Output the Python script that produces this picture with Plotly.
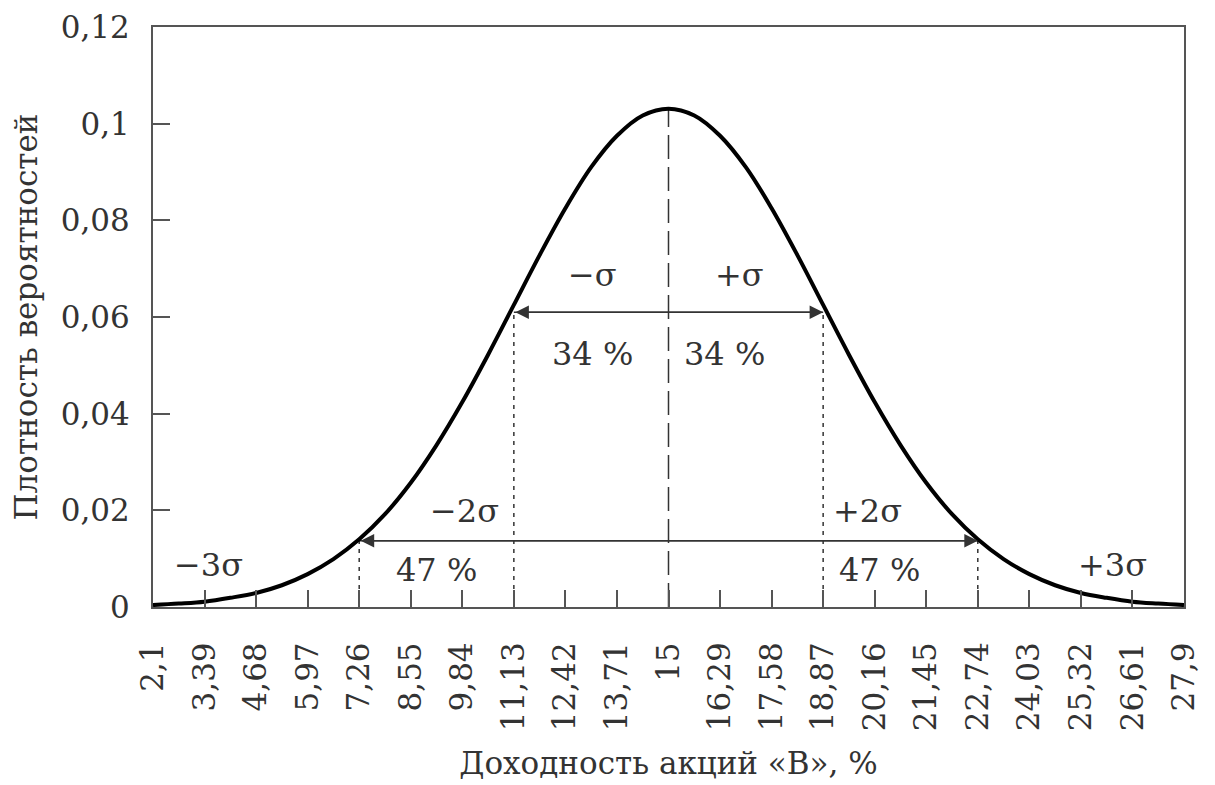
import plotly.graph_objects as go

# Tick positions / labels (x axis)
x_ticks = [2.1, 3.39, 4.68, 5.97, 7.26, 8.55, 9.84, 11.13, 12.42, 13.71, 15,
           16.29, 17.58, 18.87, 20.16, 21.45, 22.74, 24.03, 25.32, 26.61, 27.9]
x_tick_labels = ["2,1", "3,39", "4,68", "5,97", "7,26", "8,55", "9,84", "11,13", "12,42", "13,71", "15",
                 "16,29", "17,58", "18,87", "20,16", "21,45", "22,74", "24,03", "25,32", "26,61", "27,9"]
y_ticks = [0, 0.02, 0.04, 0.06, 0.08, 0.1, 0.12]
y_tick_labels = ["0", "0,02", "0,04", "0,06", "0,08", "0,1", "0,12"]

# Density curve
curve_x = [2.1, 2.745, 3.39, 4.035, 4.68, 5.325, 5.97, 6.615, 7.26, 7.905, 8.55, 9.195, 9.84,
           10.485, 11.13, 11.775, 12.42, 13.065, 13.71, 14.355, 15, 15.645, 16.29, 16.935,
           17.58, 18.225, 18.87, 19.515, 20.16, 20.805, 21.45, 22.095, 22.74, 23.385,
           24.03, 24.675, 25.32, 25.965, 26.61, 27.255, 27.9]
curve_y = [0.0004, 0.0007, 0.0011, 0.0019, 0.0029, 0.0045, 0.0068, 0.0099, 0.0140, 0.0192, 0.0257,
           0.0335, 0.0424, 0.0522, 0.0625, 0.0728, 0.0825, 0.0910, 0.0975, 0.1017, 0.1031,
           0.1017, 0.0975, 0.0910, 0.0825, 0.0728, 0.0625, 0.0522, 0.0424, 0.0335, 0.0257,
           0.0192, 0.0140, 0.0099, 0.0068, 0.0045, 0.0029, 0.0019, 0.0011, 0.0007, 0.0004]

# Reference lines
mean_x = 15
mean_top = 0.1031
sigma_x = [11.13, 18.87]
sigma_top = 0.061
two_sigma_x = [7.26, 22.74]
two_sigma_top = 0.0137

# Annotation labels
labels_text = ["−σ", "+σ", "34 %", "34 %", "−2σ", "+2σ", "47 %", "47 %", "−3σ", "+3σ"]
labels_x = [13.1, 16.78, 13.1, 16.4, 9.9, 19.98, 9.2, 20.28, 3.5, 26.1]
labels_y = [0.0686, 0.0686, 0.0524, 0.0524, 0.0199, 0.0199, 0.0076, 0.0076, 0.0086, 0.0086]

FONT = "DejaVu Serif"
AX = "#555555"
LINE = "#333333"

fig = go.Figure()

# dotted verticals
for xv, top in [(sigma_x[0], sigma_top), (sigma_x[1], sigma_top),
                (two_sigma_x[0], two_sigma_top), (two_sigma_x[1], two_sigma_top)]:
    fig.add_trace(go.Scatter(x=[xv, xv], y=[0, top], mode="lines",
                             line=dict(color=LINE, width=1.5, dash="4px,5px"),
                             showlegend=False, hoverinfo="skip"))
# mean dashed line
fig.add_trace(go.Scatter(x=[mean_x, mean_x], y=[0, mean_top], mode="lines",
                         line=dict(color=LINE, width=1.5, dash="24px,8px"),
                         showlegend=False, hoverinfo="skip"))
# horizontal arrow lines
fig.add_trace(go.Scatter(x=sigma_x, y=[sigma_top, sigma_top], mode="lines",
                         line=dict(color=LINE, width=1.5), showlegend=False, hoverinfo="skip"))
fig.add_trace(go.Scatter(x=two_sigma_x, y=[two_sigma_top, two_sigma_top], mode="lines",
                         line=dict(color=LINE, width=1.5), showlegend=False, hoverinfo="skip"))
# curve
fig.add_trace(go.Scatter(x=curve_x, y=curve_y, mode="lines",
                         line=dict(color="black", width=4, shape="spline"),
                         showlegend=False, hoverinfo="skip"))

# arrow heads
for (x0, x1, yv) in [(sigma_x[0], sigma_x[1], sigma_top), (two_sigma_x[0], two_sigma_x[1], two_sigma_top)]:
    fig.add_annotation(x=x1, y=yv, ax=x0, ay=yv, xref="x", yref="y", axref="x", ayref="y",
                       text="", showarrow=True, arrowhead=2, arrowside="end+start",
                       arrowsize=1.8, arrowwidth=1.5, arrowcolor=LINE)

for t, xv, yv in zip(labels_text, labels_x, labels_y):
    fig.add_annotation(x=xv, y=yv, text=t, showarrow=False,
                       font=dict(family=FONT, size=32, color="#333333"))

fig.update_layout(
    width=1207, height=777,
    margin=dict(l=145, r=31, t=19, b=178),
    plot_bgcolor="white", paper_bgcolor="white",
    font=dict(family=FONT, size=31, color="#333333"),
    xaxis=dict(range=[2.1, 27.9], tickmode="array", tickvals=x_ticks, ticktext=x_tick_labels,
               tickangle=-90, ticks="inside", ticklen=17, tickwidth=1.5, tickcolor=AX,
               showline=True, linecolor=AX, linewidth=2, mirror=True, showgrid=False,
               zeroline=False, ticklabelstandoff=21, automargin=False, ticklabeloverflow="allow",
               title=dict(text="Доходность акций «B», %", font=dict(size=31), standoff=22)),
    yaxis=dict(range=[0, 0.12], tickmode="array", tickvals=y_ticks, ticktext=y_tick_labels,
               ticks="inside", ticklen=17, tickwidth=1.5, tickcolor=AX,
               showline=True, linecolor=AX, linewidth=2, mirror=True, showgrid=False,
               zeroline=False, ticklabelstandoff=15, automargin=False, ticklabeloverflow="allow",
               title=dict(text="Плотность вероятностей", font=dict(size=31), standoff=16)),
)

fig.write_html("out.html")
